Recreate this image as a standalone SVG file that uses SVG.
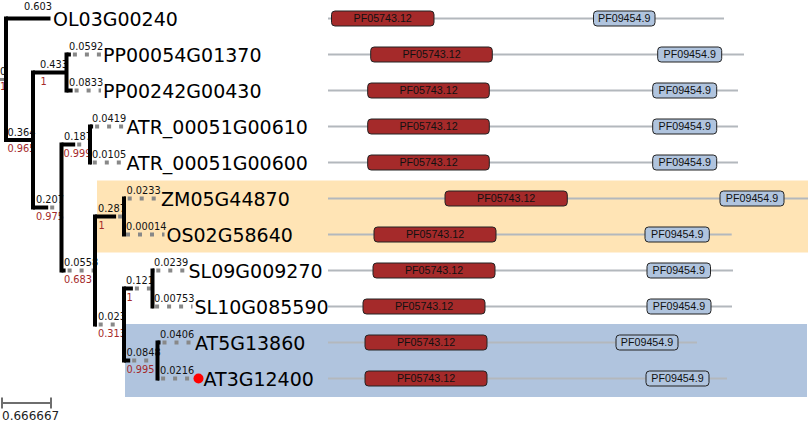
<svg xmlns="http://www.w3.org/2000/svg" width="808" height="448" viewBox="0 0 808 448">
<style>
.bg{stroke:none}
.br{stroke:#000;stroke-width:4;fill:none}
.ext{stroke:#888;stroke-width:4;fill:none;stroke-dasharray:4 8;stroke-dashoffset:10}
.bl{font-family:"DejaVu Sans",sans-serif;font-size:9.8px;fill:#111}
.sp{font-family:"DejaVu Sans",sans-serif;font-size:9.8px;fill:#a52a2a}
.nm{font-family:"DejaVu Sans",sans-serif;font-size:19px;fill:#000}
.gl{stroke:#b3b8bd;stroke-width:2}
.d1{fill:#a52a2a;stroke:#222;stroke-width:1}
.d2{fill:#b0c4de;stroke:#222;stroke-width:1}
.dt{font-family:"Liberation Sans",Arial,sans-serif;font-size:10.7px;fill:#111;text-anchor:middle}
.sc{stroke:#6e6e6e;stroke-width:2;fill:none}
</style>
<rect width="808" height="448" fill="#fff"/>
<rect class="bg" x="97" y="180.5" width="711" height="72" fill="#ffe4b5"/>
<rect class="bg" x="125" y="324" width="682" height="73" fill="#b0c4de"/>

<g id="domains">
<g id="dom-OL03G00240"><line class="gl" x1="328" y1="18.5" x2="724" y2="18.5"/><rect class="d1" x="331.5" y="11" width="102.5" height="15" rx="3.5"/><text class="dt" x="382.7" y="22.3">PF05743.12</text><rect class="d2" x="593.5" y="11" width="61.5" height="15" rx="3.5"/><text class="dt" x="624.2" y="22.3">PF09454.9</text></g>
<g id="dom-PP00054G01370"><line class="gl" x1="328" y1="54.5" x2="744" y2="54.5"/><rect class="d1" x="370.7" y="47" width="121.6" height="15" rx="3.5"/><text class="dt" x="431.5" y="58.3">PF05743.12</text><rect class="d2" x="657.7" y="47" width="64" height="15" rx="3.5"/><text class="dt" x="689.7" y="58.3">PF09454.9</text></g>
<g id="dom-PP00242G00430"><line class="gl" x1="328" y1="90.5" x2="738" y2="90.5"/><rect class="d1" x="367.7" y="83" width="121.6" height="15" rx="3.5"/><text class="dt" x="428.5" y="94.3">PF05743.12</text><rect class="d2" x="652.7" y="83" width="64" height="15" rx="3.5"/><text class="dt" x="684.7" y="94.3">PF09454.9</text></g>
<g id="dom-ATR_00051G00610"><line class="gl" x1="328" y1="126.5" x2="738" y2="126.5"/><rect class="d1" x="367.7" y="119" width="121.6" height="15" rx="3.5"/><text class="dt" x="428.5" y="130.3">PF05743.12</text><rect class="d2" x="652.7" y="119" width="64" height="15" rx="3.5"/><text class="dt" x="684.7" y="130.3">PF09454.9</text></g>
<g id="dom-ATR_00051G00600"><line class="gl" x1="328" y1="162.5" x2="738" y2="162.5"/><rect class="d1" x="367.7" y="155" width="121.6" height="15" rx="3.5"/><text class="dt" x="428.5" y="166.3">PF05743.12</text><rect class="d2" x="652.7" y="155" width="64" height="15" rx="3.5"/><text class="dt" x="684.7" y="166.3">PF09454.9</text></g>
<g id="dom-ZM05G44870"><line class="gl" x1="328" y1="198.5" x2="808" y2="198.5"/><rect class="d1" x="445" y="191" width="122.3" height="15" rx="3.5"/><text class="dt" x="506.2" y="202.3">PF05743.12</text><rect class="d2" x="720" y="191" width="64" height="15" rx="3.5"/><text class="dt" x="752" y="202.3">PF09454.9</text></g>
<g id="dom-OS02G58640"><line class="gl" x1="328" y1="234.5" x2="731.7" y2="234.5"/><rect class="d1" x="374" y="227" width="122" height="15" rx="3.5"/><text class="dt" x="435" y="238.3">PF05743.12</text><rect class="d2" x="645" y="227" width="64.3" height="15" rx="3.5"/><text class="dt" x="677.2" y="238.3">PF09454.9</text></g>
<g id="dom-SL09G009270"><line class="gl" x1="328" y1="270.5" x2="733" y2="270.5"/><rect class="d1" x="373" y="263" width="122" height="15" rx="3.5"/><text class="dt" x="434" y="274.3">PF05743.12</text><rect class="d2" x="647" y="263" width="63.5" height="15" rx="3.5"/><text class="dt" x="678.7" y="274.3">PF09454.9</text></g>
<g id="dom-SL10G085590"><line class="gl" x1="328" y1="306.5" x2="732" y2="306.5"/><rect class="d1" x="363" y="299" width="122" height="15" rx="3.5"/><text class="dt" x="424" y="310.3">PF05743.12</text><rect class="d2" x="647" y="299" width="64" height="15" rx="3.5"/><text class="dt" x="679" y="310.3">PF09454.9</text></g>
<g id="dom-AT5G13860"><line class="gl" x1="328" y1="342.5" x2="697" y2="342.5"/><rect class="d1" x="365" y="335" width="122" height="15" rx="3.5"/><text class="dt" x="426" y="346.3">PF05743.12</text><rect class="d2" x="616" y="335" width="62" height="15" rx="3.5"/><text class="dt" x="647" y="346.3">PF09454.9</text></g>
<g id="dom-AT3G12400"><line class="gl" x1="328" y1="378.5" x2="727" y2="378.5"/><rect class="d1" x="365" y="371" width="122" height="15" rx="3.5"/><text class="dt" x="426" y="382.3">PF05743.12</text><rect class="d2" x="646" y="371" width="63" height="15" rx="3.5"/><text class="dt" x="677.5" y="382.3">PF09454.9</text></g>
</g>

<g id="node-root"><text class="bl" x="0" y="75">0</text><text class="sp" x="0" y="90">1</text></g>
<g id="node-A"><text class="bl" x="7.5" y="135.5">0.364</text><text class="sp" x="7.5" y="152.3">0.965</text></g>
<g id="node-PP"><text class="bl" x="40" y="68">0.433</text><text class="sp" x="40.5" y="84.8">1</text></g>
<g id="node-B"><text class="bl" x="36" y="203">0.207</text><text class="sp" x="36" y="219.8">0.975</text></g>
<g id="node-ATR"><text class="bl" x="64" y="140">0.187</text><text class="sp" x="63.5" y="156.8">0.999</text></g>
<g id="node-C"><text class="bl" x="64" y="266">0.0558</text><text class="sp" x="64" y="282.8">0.683</text></g>
<g id="node-D"><text class="bl" x="98" y="212">0.287</text><text class="sp" x="98.5" y="228.8">1</text></g>
<g id="node-E"><text class="bl" x="98" y="320">0.023</text><text class="sp" x="98" y="336.8">0.313</text></g>
<g id="node-SL"><text class="bl" x="126" y="284">0.121</text><text class="sp" x="126.5" y="300.8">1</text></g>
<g id="node-AT"><text class="bl" x="126.5" y="356">0.0848</text><text class="sp" x="126.5" y="372.8">0.995</text></g>

<g id="connectors">
<line x1="0" y1="79.5" x2="4" y2="79.5" stroke="#888" stroke-width="3"/>
<line class="ext" x1="70.9" y1="54.5" x2="101" y2="54.5"/>
<line class="ext" x1="72.6" y1="90.5" x2="101" y2="90.5"/>
<line class="ext" x1="48.2" y1="207.5" x2="61.5" y2="207.5"/>
<line class="ext" x1="75.2" y1="144.5" x2="90" y2="144.5"/>
<line class="ext" x1="93.1" y1="126.5" x2="124.5" y2="126.5"/>
<line class="ext" x1="90.8" y1="162.5" x2="124.5" y2="162.5"/>
<line class="ext" x1="65.6" y1="270.5" x2="95" y2="270.5"/>
<line class="ext" x1="116.1" y1="216.5" x2="124" y2="216.5"/>
<line class="ext" x1="125.7" y1="198.5" x2="159" y2="198.5"/>
<line class="ext" x1="124" y1="234.5" x2="164.5" y2="234.5"/>
<line class="ext" x1="96.7" y1="324.5" x2="124" y2="324.5"/>
<line class="ext" x1="132.9" y1="288.5" x2="152.5" y2="288.5"/>
<line class="ext" x1="154.3" y1="270.5" x2="186.5" y2="270.5"/>
<line class="ext" x1="153.1" y1="306.5" x2="192.5" y2="306.5"/>
<line class="ext" x1="130.2" y1="360.5" x2="157.5" y2="360.5"/>
<line class="ext" x1="160.5" y1="342.5" x2="193" y2="342.5"/>
<line class="ext" x1="159.1" y1="378.5" x2="193" y2="378.5"/>
<line class="br" x1="6" y1="18.5" x2="50.5" y2="18.5"/>
<line class="br" x1="6" y1="140" x2="33" y2="140"/>
<line class="br" x1="33" y1="72.5" x2="66.5" y2="72.5"/>
<line class="br" x1="66.5" y1="54.5" x2="70.9" y2="54.5"/>
<line class="br" x1="66.5" y1="90.5" x2="72.6" y2="90.5"/>
<line class="br" x1="33" y1="207.5" x2="48.2" y2="207.5"/>
<line class="br" x1="61.5" y1="144.5" x2="75.2" y2="144.5"/>
<line class="br" x1="90" y1="126.5" x2="93.1" y2="126.5"/>
<line class="br" x1="90" y1="162.5" x2="90.8" y2="162.5"/>
<line class="br" x1="61.5" y1="270.5" x2="65.6" y2="270.5"/>
<line class="br" x1="95" y1="216.5" x2="116.1" y2="216.5"/>
<line class="br" x1="124" y1="198.5" x2="125.7" y2="198.5"/>
<line class="br" x1="95" y1="324.5" x2="96.7" y2="324.5"/>
<line class="br" x1="124" y1="288.5" x2="132.9" y2="288.5"/>
<line class="br" x1="152.5" y1="270.5" x2="154.3" y2="270.5"/>
<line class="br" x1="152.5" y1="306.5" x2="153.1" y2="306.5"/>
<line class="br" x1="124" y1="360.5" x2="130.2" y2="360.5"/>
<line class="br" x1="157.5" y1="342.5" x2="160.5" y2="342.5"/>
<line class="br" x1="157.5" y1="378.5" x2="159.1" y2="378.5"/>
<line class="br" x1="6" y1="16.5" x2="6" y2="142"/>
<line class="br" x1="33" y1="70.5" x2="33" y2="209.5"/>
<line class="br" x1="66.5" y1="52.5" x2="66.5" y2="92.5"/>
<line class="br" x1="61.5" y1="142.5" x2="61.5" y2="272.5"/>
<line class="br" x1="90" y1="124.5" x2="90" y2="164.5"/>
<line class="br" x1="95" y1="214.5" x2="95" y2="326.5"/>
<line class="br" x1="124" y1="196.5" x2="124" y2="236.5"/>
<line class="br" x1="124" y1="286.5" x2="124" y2="362.5"/>
<line class="br" x1="152.5" y1="268.5" x2="152.5" y2="308.5"/>
<line class="br" x1="157.5" y1="340.5" x2="157.5" y2="380.5"/>
</g>

<g id="leaf-OL03G00240"><text class="bl" x="24" y="10">0.603</text><text class="nm" x="53" y="26">OL03G00240</text></g>
<g id="leaf-PP00054G01370"><text class="bl" x="69" y="49.5">0.0592</text><text class="nm" x="103" y="62">PP00054G01370</text></g>
<g id="leaf-PP00242G00430"><text class="bl" x="69" y="85.5">0.0833</text><text class="nm" x="103" y="98">PP00242G00430</text></g>
<g id="leaf-ATR_00051G00610"><text class="bl" x="92" y="121.5">0.0419</text><text class="nm" x="126.5" y="134">ATR_00051G00610</text></g>
<g id="leaf-ATR_00051G00600"><text class="bl" x="92" y="157.5">0.0105</text><text class="nm" x="126.5" y="170">ATR_00051G00600</text></g>
<g id="leaf-ZM05G44870"><text class="bl" x="126.5" y="193.5">0.0233</text><text class="nm" x="161" y="206">ZM05G44870</text></g>
<g id="leaf-OS02G58640"><text class="bl" x="126" y="229.5">0.00014</text><text class="nm" x="166.5" y="242">OS02G58640</text></g>
<g id="leaf-SL09G009270"><text class="bl" x="154" y="265.5">0.0239</text><text class="nm" x="188.5" y="278">SL09G009270</text></g>
<g id="leaf-SL10G085590"><text class="bl" x="154" y="301.5">0.00753</text><text class="nm" x="194.5" y="314">SL10G085590</text></g>
<g id="leaf-AT5G13860"><text class="bl" x="160" y="337.5">0.0406</text><text class="nm" x="195" y="350">AT5G13860</text></g>
<g id="leaf-AT3G12400"><text class="bl" x="160" y="373.5">0.0216</text><circle cx="198.5" cy="378.5" r="5" fill="#f00"/><text class="nm" x="203.5" y="386">AT3G12400</text></g>

<g id="scale">
<path class="sc" d="M2 403H51M2 397.5V408.5M51 397.5V408.5"/>
<text x="2" y="420" font-family="DejaVu Sans, sans-serif" font-size="12px" fill="#222">0.666667</text>
</g>
</svg>
